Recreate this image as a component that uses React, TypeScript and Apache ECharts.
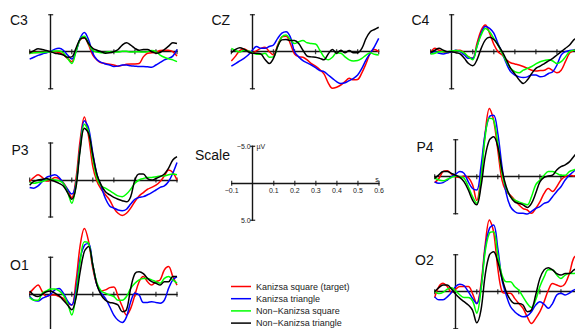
import React, { useEffect, useRef } from "react";
import * as echarts from "echarts";

const times = [-0.1, -0.08, -0.06, -0.04, -0.02, 0, 0.02, 0.04, 0.06, 0.08, 0.1, 0.12, 0.14, 0.16, 0.18, 0.2, 0.22, 0.24, 0.26, 0.28, 0.3, 0.32, 0.34, 0.36, 0.38, 0.4, 0.42, 0.44, 0.46, 0.48, 0.5, 0.52, 0.54, 0.56, 0.58, 0.6];

const conditionNames = ["Kanizsa square (target)", "Kanizsa triangle", "Non\u2212Kanizsa square", "Non\u2212Kanizsa triangle"];
const conditionColors = ["#ff0000", "#0000ff", "#00ff00", "#000000"];
const timeTicks = [-0.1, 0.1, 0.2, 0.3, 0.4, 0.5, 0.6];
const ampCaps = [-5, 5];

// C3
const c3Target = [0.1, 0.1, 0.1, 0.1, 0.1, 0, 0, 0.1, 0.4, 0.9, 1.35, -0.2, -1.6, -1.9, -0.9, 0.45, 1.1, 1.5, 1.6, 1.7, 1.8, 1.95, 1.85, 1.7, 1.65, 1.65, 1.6, 0.7, 0.2, 0.15, 0.05, -0.15, -0.2, -0.2, 0, 0.6];
const c3Triangle = [1.0, 0.75, 0.5, 0.3, 0.15, -0.05, -0.35, -0.45, -0.2, 0.45, 1.0, 0, -1.8, -2.6, -1.6, 0.2, 1.1, 1.45, 1.65, 1.8, 2.0, 1.95, 1.8, 1.8, 1.9, 1.95, 2.0, 2.0, 2.05, 2.1, 1.8, 1.45, 1.1, 0.9, 0.6, -0.3];
const c3NonSquare = [0.2, 0.15, 0.1, 0.1, 0.05, 0, -0.1, -0.1, 0.15, 0.9, 1.6, 0, -1.7, -2.1, -1.1, -0.15, 0.05, 0.15, 0.1, 0, 0.05, 0.05, -0.05, -0.05, 0.05, 0, 0, 0.05, 0, -0.15, 0, 0.45, 0.75, 0.95, 1.1, 1.35];
const c3NonTriangle = [0.15, -0.15, -0.4, -0.3, -0.15, 0, 0.2, 0.3, 0.45, 0.75, 0.7, -0.45, -1.7, -1.9, -1.1, -0.45, -0.2, 0, 0.2, 0.15, 0, -0.3, -0.9, -1.2, -0.9, -0.45, -0.2, -0.3, -0.3, 0, 0.2, 0.1, -0.3, -0.75, -1.2, -1.1];

// CZ
const czTarget = [1.25, 0.6, -0.15, -0.35, -0.1, 0.15, -0.15, -0.45, -0.6, 0, 0.45, -0.9, -2.0, -2.1, -1.1, 0.3, 0.7, 0.75, 1.1, 1.6, 1.95, 2.4, 3.0, 4.2, 4.95, 4.8, 4.5, 4.05, 3.6, 3.8, 3.75, 2.85, 1.6, 0.2, -0.3, 0];
const czTriangle = [1.95, 1.6, 1.25, 0.9, 0.45, -0.2, -0.7, -0.45, -0.45, -0.7, -0.9, -1.8, -2.5, -2.7, -2.0, 0, 0.7, 1.2, 1.5, 1.8, 2.15, 2.55, 2.7, 3.15, 3.6, 4.05, 4.3, 4.2, 3.9, 3.6, 3.15, 2.25, 1.1, 0.2, -0.7, -1.8];
const czNonSquare = [-0.45, -0.15, 0.05, -0.2, -0.1, 0.15, 0.35, 0.35, 0.2, 0.75, 0.7, -0.7, -2.0, -2.25, -1.65, -1.1, -1.35, -1.5, -1.2, -1.1, -1.05, -0.2, 0.7, 1.1, 0.75, 0.15, 0.2, 0.7, 1.1, 1.25, 1.2, 0.9, 0.45, 0.15, 0.35, 0.45];
const czNonTriangle = [0.15, -0.3, -0.55, -0.35, 0, 0.2, 0.2, 0.3, 1.05, 1.6, 0.9, -0.7, -1.6, -1.65, -1.5, -1.5, -1.1, -0.2, 0.6, 0.7, 0.75, 0.9, 1.1, 0.3, -0.3, 0.2, -0.2, 0.15, -0.15, 0.15, 0.15, -0.45, -1.8, -2.7, -3.0, -3.3];

// C4
const c4Target = [0.15, -0.45, -0.2, 0, 0.15, 0, -0.15, -0.2, 0.2, 0.7, 0.9, -1.1, -2.9, -3.6, -2.5, -1.0, 0, 0.45, 1.1, 1.5, 1.65, 1.8, 2.0, 2.25, 2.5, 2.6, 2.55, 2.5, 2.25, 2.55, 2.85, 2.5, 1.35, 0.2, -0.2, -0.45];
const c4Triangle = [0.2, 0, 0.2, 0.3, 0.15, 0, -0.2, 0, 0.45, 0.9, 0.9, -0.7, -2.5, -3.4, -3.15, -2.5, -1.1, 0.15, 1.6, 2.7, 3.15, 3.4, 3.5, 3.4, 3.15, 3.15, 3.4, 3.3, 2.95, 2.7, 1.8, 0.45, 0, -0.15, -0.2, -0.3];
const c4NonSquare = [0.3, 0.2, 0, 0, 0, -0.1, -0.15, -0.1, 0.2, 0.7, 1.1, -0.7, -2.25, -3.15, -2.7, -1.8, -0.9, 0.2, 1.35, 2.25, 2.7, 2.85, 2.5, 2.25, 2.0, 1.65, 1.35, 1.2, 1.1, 1.25, 1.6, 1.35, 0.7, 0, -0.2, -0.2];
const c4NonTriangle = [0.1, -0.2, -0.45, -0.2, 0, 0, 0.15, 0.3, 0.9, 1.6, 1.9, 1.1, -0.45, -1.6, -1.95, -1.65, -0.9, 0, 1.1, 2.25, 3.0, 3.8, 4.3, 3.8, 2.95, 2.25, 1.95, 1.6, 1.25, 0.9, 0.45, 0, -0.45, -0.9, -1.6, -2.0];

// P3
const p3Target = [0.2, -0.35, -0.7, -0.35, 0.15, 0, -0.35, -0.2, 0.35, 1.25, 2.4, -0.2, -5.4, -8.5, -5.9, -1.8, 0.2, 1.25, 2.0, 2.7, 3.8, 4.5, 4.8, 4.5, 3.8, 2.9, 2.15, 1.7, 1.25, 1.0, 0.7, 0.2, -0.55, -1.35, -1.0, 0];
const p3Triangle = [1.0, 1.1, 0.8, 0.2, -0.35, -0.55, -0.7, -0.35, 0.45, 1.25, 1.9, 0.45, -4.5, -8.0, -7.0, -3.6, -0.7, 0.9, 2.5, 3.5, 3.8, 4.05, 4.15, 3.95, 3.25, 2.6, 2.35, 2.25, 2.0, 1.7, 1.35, 1.0, 0.8, 0.2, -0.9, -2.35];
const p3NonSquare = [0.35, 0.45, 0.35, 0.2, 0, -0.1, 0, 0.1, 0.45, 1.6, 3.15, 0.7, -4.3, -7.55, -6.5, -2.9, -0.2, 0.8, 1.1, 1.45, 1.8, 2.15, 2.25, 1.9, 1.25, 0.45, 0, -0.2, -0.35, -0.35, -0.45, -0.55, -0.55, -0.7, -0.8, -0.7];
const p3NonTriangle = [0.7, 0.2, 0, -0.1, -0.2, 0, 0.2, 0.45, 0.8, 1.7, 2.6, 1.0, -4.05, -7.0, -6.3, -3.4, -0.7, 0.7, 1.6, 2.0, 2.35, 2.6, 2.8, 2.95, 2.25, 0, -0.8, -0.8, -0.2, 0, -0.2, -0.45, -0.8, -1.6, -2.7, -3.15];

// P4
const p4Target = [0.8, 0.25, -0.7, -0.8, -0.35, 0, 0.1, -0.1, 0.1, 1.1, 3.2, 0, -5.85, -9.2, -7.65, -3.6, 0.45, 2.0, 2.5, 3.15, 3.8, 4.3, 4.5, 4.95, 4.3, 3.4, 2.25, 1.6, 2.0, 1.35, 0.45, 0, -0.2, -0.1, -0.2, -0.45];
const p4Triangle = [0.7, 0.9, 0.8, 0.45, 0, -0.35, -0.7, -0.45, 0.7, 1.6, 1.8, -1.35, -5.85, -8.1, -8.3, -5.85, -1.35, 2.25, 4.05, 4.7, 4.95, 4.95, 5.05, 4.7, 4.3, 4.05, 3.6, 3.4, 2.7, 2.0, 1.35, 0.45, -0.2, -0.7, -1.1, -1.35];
const p4NonSquare = [0.2, 0.45, 0.55, 0.35, 0.1, -0.1, 0, 0.2, 1.35, 2.7, 3.6, 0.45, -5.4, -7.9, -7.65, -4.5, -0.45, 1.6, 2.7, 3.15, 3.4, 3.6, 3.8, 2.7, 1.1, 0.45, -0.2, -0.7, -0.7, -0.45, -0.2, -0.2, -0.7, -0.9, -1.1, -1.35];
const p4NonTriangle = [0.25, -0.25, -0.7, -0.7, -0.45, -0.2, 0.1, 0.7, 1.8, 3.15, 3.8, 1.35, -2.7, -4.95, -5.4, -4.05, -0.9, 1.35, 2.7, 3.4, 3.6, 3.8, 4.15, 3.6, 2.25, 0.7, 0.1, -0.1, -0.2, -0.9, -1.35, -1.6, -2.0, -2.7, -3.4, -3.85];

// O1
const o1Target = [-0.15, -0.8, -1.25, -0.35, 0.3, 0.1, 0.1, 0.3, 0.55, 1.2, 1.45, -1.7, -6.6, -8.9, -7.15, -3.5, -1.25, -0.45, -0.6, -0.9, -1.0, 0.3, 1.65, 2.8, 1.9, 0.1, -1.7, -2.4, -1.7, -1.25, -1.7, -1.95, -3.3, -3.75, -2.4, -1.25];
const o1Triangle = [0.3, 0.8, 0.9, 0.55, 0.3, 0, -0.6, -0.8, -0.15, 0.9, 1.45, -0.6, -4.85, -6.6, -6.85, -3.95, -1.25, -0.15, 0.55, 1.65, 2.8, 3.5, 3.8, 3.05, 1.0, -0.15, 0.1, 1.1, 1.1, 1.0, 1.1, 1.2, 0.8, -0.8, -1.95, -2.4];
const o1NonSquare = [0.45, 0.8, 0.8, -0.15, -0.45, -0.7, -0.7, -0.45, 0.1, 1.2, 2.8, 0.1, -4.4, -7.1, -6.85, -3.95, -1.5, -0.45, -0.15, 0.1, 0.3, 0.8, 0.8, 0.3, -0.8, -1.5, -1.95, -2.15, -2.15, -1.95, -1.7, -1.5, -2.15, -2.4, -1.95, -1.5];
const o1NonTriangle = [-0.45, 0.1, 0.3, 0, -0.35, -0.45, -0.15, 0.2, 0.8, 1.45, 2.1, 0.55, -3.05, -5.8, -6.45, -3.95, -1.25, 0.1, 0.8, 1.1, 1.2, 1.45, 2.35, 2.1, -0.8, -2.8, -3.05, -2.8, -2.15, -1.7, -1.5, -1.25, -1.7, -1.7, -2.4, -2.4];

// O2
const o2Target = [0.8, -0.7, -1.15, -0.7, 0.1, -0.35, -0.7, -0.7, -0.7, 0.25, 1.6, -1.0, -6.3, -9.7, -8.1, -3.15, 0, 0.2, 0.2, 0.9, 1.6, 2.25, 3.4, 4.3, 3.6, 2.7, 1.35, -0.2, -1.1, -0.9, -0.7, -1.1, -2.45, -4.5, -4.9, -4.5];
const o2Triangle = [0.7, 1.1, 1.1, 0.7, 0.1, -0.7, -1.0, -0.8, 0, 0.9, 1.6, -0.45, -5.85, -8.55, -9.0, -5.85, -1.6, 0.45, 2.0, 2.7, 3.15, 3.4, 3.25, 2.7, 1.8, 1.35, 1.7, 2.25, 1.6, 0.45, 0.2, 0.45, 0.2, -0.2, -0.45, -0.7];
const o2NonSquare = [-0.1, 0.25, 0.1, -0.35, -0.55, -0.1, 0.45, 0.8, 0.8, 1.25, 2.9, -0.2, -5.4, -7.9, -8.1, -4.95, -2.25, -1.35, -1.35, -0.7, -0.2, 0.7, 1.6, 2.15, 1.1, -0.7, -2.0, -2.95, -2.95, -2.25, -1.8, -2.25, -2.45, -2.45, -2.7, -2.9];
const o2NonTriangle = [0, -0.55, -0.9, -0.9, -0.35, 0.35, 0.9, 1.35, 1.8, 2.5, 4.2, 2.5, -2.25, -4.95, -5.4, -4.05, -1.8, 0, 1.1, 1.6, 1.6, 1.8, 2.7, 2.45, 0.45, -1.8, -2.95, -3.25, -2.95, -2.45, -2.25, -2.45, -2.45, -2.9, -3.2, -3.5];

const FONT = '"Liberation Sans", Arial, Helvetica, sans-serif';
const PX_PER_S = 210.5;
const PX_PER_UV = 7.4;

type Panel = { label: string; waves: number[][] | null; ox: number; oy: number; lx: number; ly: number };

const panels: Panel[] = [
  { label: "C3", waves: [c3Target, c3Triangle, c3NonSquare, c3NonTriangle], ox: 50.7, oy: 51.7, lx: 10, ly: 20 },
  { label: "CZ", waves: [czTarget, czTriangle, czNonSquare, czNonTriangle], ox: 252.4, oy: 51.7, lx: 211.5, ly: 20 },
  { label: "C4", waves: [c4Target, c4Triangle, c4NonSquare, c4NonTriangle], ox: 451.7, oy: 51.7, lx: 411.5, ly: 20 },
  { label: "P3", waves: [p3Target, p3Triangle, p3NonSquare, p3NonTriangle], ox: 50.7, oy: 180, lx: 11.5, ly: 150 },
  { label: "Scale", waves: null, ox: 252.7, oy: 183.3, lx: 195, ly: 155 },
  { label: "P4", waves: [p4Target, p4Triangle, p4NonSquare, p4NonTriangle], ox: 455.7, oy: 176.7, lx: 416.5, ly: 147 },
  { label: "O1", waves: [o1Target, o1Triangle, o1NonSquare, o1NonTriangle], ox: 50.7, oy: 294.3, lx: 10, ly: 265 },
  { label: "O2", waves: [o2Target, o2Triangle, o2NonSquare, o2NonTriangle], ox: 455.7, oy: 291.7, lx: 415, ly: 260 },
];

const AXIS_COLOR = "#151515";

function fmtSigned(v: number) {
  if (Math.abs(v) < 1e-9) return "";
  return v.toFixed(1).replace("-", "\u2212");
}

function buildOption() {
  const grid: any[] = [];
  const xAxis: any[] = [];
  const yAxis: any[] = [];
  const series: any[] = [];
  const graphic: any[] = [];

  panels.forEach((p, i) => {
    const isScale = p.waves === null;
    grid.push({
      left: p.ox - 0.1 * PX_PER_S,
      top: p.oy - 5 * PX_PER_UV,
      width: 0.7 * PX_PER_S,
      height: 10 * PX_PER_UV,
      containLabel: false,
      outerBoundsMode: "none",
    });
    xAxis.push({
      gridIndex: i,
      type: "value",
      min: -0.1,
      max: 0.6,
      interval: 0.1,
      position: "bottom",
      offset: isScale ? -5 * PX_PER_UV : 0,
      axisLine: { show: true, onZero: !isScale, lineStyle: { color: AXIS_COLOR, width: 1.4 } },
      axisTick: { show: false },
      splitLine: { show: false },
      axisLabel: {
        show: isScale,
        margin: 4,
        fontSize: 7,
        fontFamily: FONT,
        color: "#222",
        formatter: (v: number) => fmtSigned(v),
      },
    });
    yAxis.push({
      gridIndex: i,
      type: "value",
      inverse: true,
      min: -5,
      max: 5,
      interval: 10,
      position: "left",
      offset: isScale ? -0.1 * PX_PER_S : 0,
      axisLine: { show: true, onZero: !isScale, lineStyle: { color: AXIS_COLOR, width: 1.4 } },
      axisTick: { show: false },
      splitLine: { show: false },
      axisLabel: {
        show: isScale,
        margin: 2,
        fontSize: 7,
        fontFamily: FONT,
        color: "#222",
        formatter: (v: number) => v.toFixed(1).replace("-", "\u2212"),
      },
    });
    series.push({
      type: "scatter",
      xAxisIndex: i,
      yAxisIndex: i,
      silent: true,
      symbol: "rect",
      symbolSize: [1.3, 5],
      itemStyle: { color: AXIS_COLOR },
      data: timeTicks.map((t) => [t, 0]),
      z: 1,
    });
    series.push({
      type: "scatter",
      xAxisIndex: i,
      yAxisIndex: i,
      silent: true,
      symbol: "rect",
      symbolSize: [5, 1.4],
      itemStyle: { color: AXIS_COLOR },
      data: ampCaps.map((a) => [0, a]),
      z: 1,
    });
    if (p.waves) {
      p.waves.forEach((w, k) => {
        series.push({
          type: "line",
          name: conditionNames[k],
          xAxisIndex: i,
          yAxisIndex: i,
          data: times.map((t, j) => [t, w[j]]),
          symbol: "none",
          showSymbol: false,
          smooth: 0.35,
          clip: false,
          silent: true,
          lineStyle: { color: conditionColors[k], width: 1.5 },
          itemStyle: { color: conditionColors[k] },
          z: 3,
        });
      });
    }
    graphic.push({
      type: "text",
      x: p.lx,
      y: p.ly,
      silent: true,
      style: { text: p.label, fontSize: 14, fontFamily: FONT, fill: "#111", verticalAlign: "middle", align: "left" },
    });
  });

  graphic.push({
    type: "text",
    x: 256.5,
    y: 146.5,
    silent: true,
    style: { text: "\u00b5V", fontSize: 7, fontFamily: FONT, fill: "#222", verticalAlign: "middle", align: "left" },
  });
  graphic.push({
    type: "text",
    x: 377,
    y: 179,
    silent: true,
    style: { text: "s", fontSize: 7, fontFamily: FONT, fill: "#222", verticalAlign: "middle", align: "center" },
  });

  return {
    animation: false,
    backgroundColor: "#ffffff",
    legend: {
      data: conditionNames,
      orient: "vertical",
      left: 231,
      top: 281.6,
      padding: 0,
      icon: "rect",
      itemWidth: 20,
      itemHeight: 1.5,
      itemGap: 2.4,
      selectedMode: false,
      textStyle: { fontSize: 9, lineHeight: 9.8, fontFamily: FONT, color: "#222" },
    },
    grid,
    xAxis,
    yAxis,
    series,
    graphic,
  };
}

export default function App() {
  const ref = useRef<HTMLDivElement>(null);
  useEffect(() => {
    if (!ref.current) return;
    const chart = echarts.init(ref.current, null, { renderer: "svg" });
    chart.setOption(buildOption() as any);
    return () => chart.dispose();
  }, []);
  return <div ref={ref} style={{ position: "fixed", left: 0, top: 0, width: 575, height: 329, background: "#fff" }} />;
}
